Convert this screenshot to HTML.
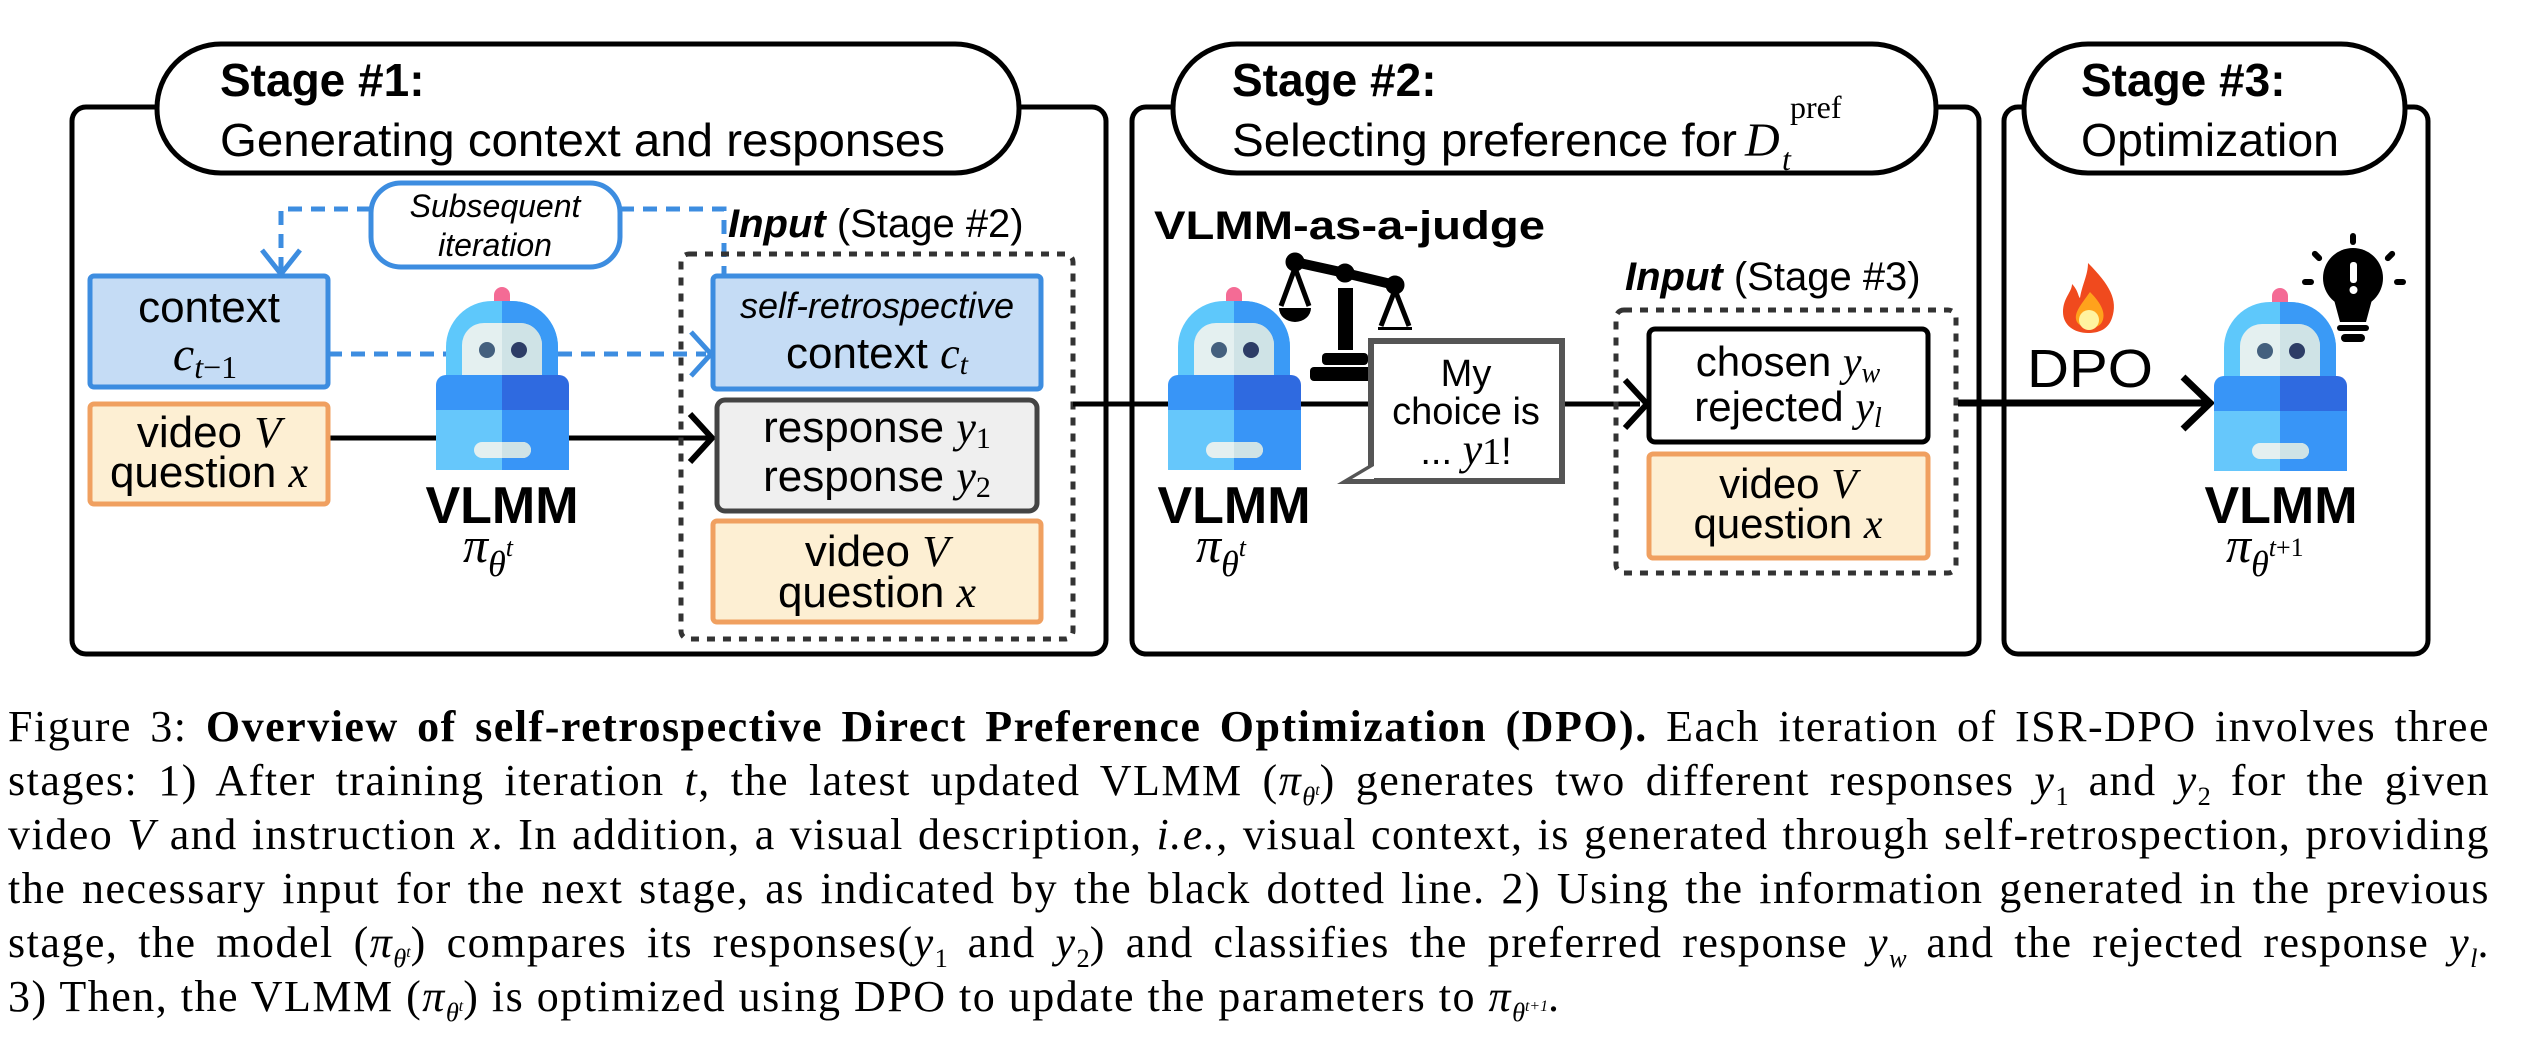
<!DOCTYPE html>
<html><head><meta charset="utf-8"><style>
html,body{margin:0;padding:0;background:#fff;}
body{width:2524px;height:1042px;position:relative;overflow:hidden;}
svg{position:absolute;left:0;top:0;}
.cap{position:absolute;left:8px;width:2482px;font-family:"Liberation Serif",serif;font-size:44px;letter-spacing:1.5px;line-height:54px;color:#000;}
.cap div{text-align:justify;text-align-last:justify;white-space:nowrap;height:54px;}
.cap div.last{text-align-last:left;}
.m{font-style:italic;}
sub,sup{font-size:0.6em;line-height:0;letter-spacing:0;}
</style></head><body>
<svg width="2524" height="660" viewBox="0 0 2524 660" xmlns="http://www.w3.org/2000/svg">
<defs>
<g id="robot">
  <rect x="58" y="0" width="16" height="30" rx="8" fill="#f46b95"/>
  <path d="M10 88 V60 a46 46 0 0 1 46 -46 h20 a46 46 0 0 1 46 46 V88 Z" fill="#5ec8fb"/>
  <path d="M66 14 h10 a46 46 0 0 1 46 46 V88 H66 Z" fill="#3a9af6"/>
  <path d="M26 88 V58 a22 22 0 0 1 22 -22 h36 a22 22 0 0 1 22 22 V88 Z" fill="#e4f0f0"/>
  <path d="M66 36 h18 a22 22 0 0 1 22 22 V88 H66 Z" fill="#cfe3e6"/>
  <circle cx="51" cy="63" r="8" fill="#44607e"/>
  <circle cx="83" cy="63" r="8" fill="#2d3d66"/>
  <path d="M0 98 a10 10 0 0 1 10 -10 h56 V123 H0 Z" fill="#3895f7"/>
  <path d="M66 88 h57 a10 10 0 0 1 10 10 V123 H66 Z" fill="#2f6ae0"/>
  <rect x="0" y="123" width="66" height="60" fill="#66c7fb"/>
  <rect x="66" y="123" width="67" height="60" fill="#3895f7"/>
  <rect x="38" y="155" width="57" height="16" rx="8" fill="#e4f0f0"/>
  <path d="M87 155 a8 8 0 0 1 0 16 h-21 v-16 Z" fill="#cfe3e6"/>
</g>
</defs>
<g fill="none" stroke="#000" stroke-width="5">
  <rect x="72" y="107" width="1034" height="547" rx="14"/>
  <rect x="1132" y="107" width="847" height="547" rx="14"/>
  <rect x="2004" y="107" width="424" height="547" rx="14"/>
</g>
<g fill="#fff" stroke="#000" stroke-width="5">
  <rect x="157" y="44" width="862" height="129" rx="64"/>
  <rect x="1173" y="44" width="763" height="129" rx="64"/>
  <rect x="2024" y="44" width="381" height="129" rx="64"/>
</g>
<g font-family="Liberation Sans, sans-serif" font-size="46">
  <text x="220" y="96" font-weight="bold">Stage #1:</text>
  <text x="220" y="156" textLength="725" lengthAdjust="spacingAndGlyphs">Generating context and responses</text>
  <text x="1232" y="96" font-weight="bold">Stage #2:</text>
  <text x="1232" y="156" textLength="505" lengthAdjust="spacingAndGlyphs">Selecting preference for</text>
  <text x="2081" y="96" font-weight="bold">Stage #3:</text>
  <text x="2081" y="156" textLength="258" lengthAdjust="spacingAndGlyphs">Optimization</text>
</g>
<g font-family="Liberation Serif, serif">
  <text x="1745" y="156" font-size="48" font-style="italic">D</text>
  <text x="1790" y="118" font-size="32">pref</text>
  <text x="1782" y="170" font-size="32" font-style="italic">t</text>
</g>

<!-- Stage 1 -->
<g fill="none" stroke="#3d8de0" stroke-width="5" stroke-dasharray="14 9">
  <path d="M371 209 H281 V272"/>
  <path d="M620 209 H724 V274"/>
  <path d="M328 354 H706"/>
</g>
<path d="M262 250 L281 274 L300 250" fill="none" stroke="#3d8de0" stroke-width="5"/>
<path d="M691 332 L711 354 L691 376" fill="none" stroke="#3d8de0" stroke-width="5"/>
<rect x="371" y="183" width="249" height="84" rx="30" fill="#fff" stroke="#3d8de0" stroke-width="5"/>
<g font-family="Liberation Sans, sans-serif" font-size="32" font-style="italic" text-anchor="middle">
  <text x="495" y="217">Subsequent</text>
  <text x="495" y="256">iteration</text>
</g>
<path d="M328 438 H710" stroke="#000" stroke-width="5"/>
<path d="M690 414 L712 438 L690 462" fill="none" stroke="#000" stroke-width="6"/>
<rect x="681" y="254" width="392" height="385" rx="8" fill="none" stroke="#333" stroke-width="5" stroke-dasharray="8 8"/>
<rect x="90" y="276" width="238" height="111" rx="4" fill="#c5dcf5" stroke="#3d8de0" stroke-width="5"/>
<rect x="90" y="404" width="238" height="100" rx="4" fill="#fdefd3" stroke="#f0a060" stroke-width="5"/>
<rect x="713" y="276" width="328" height="113" rx="4" fill="#c5dcf5" stroke="#3d8de0" stroke-width="5"/>
<rect x="717" y="400" width="320" height="111" rx="8" fill="#efefef" stroke="#444" stroke-width="5"/>
<rect x="713" y="521" width="328" height="101" rx="4" fill="#fdefd3" stroke="#f0a060" stroke-width="5"/>
<use href="#robot" x="436" y="287"/>
<g font-family="Liberation Sans, sans-serif" font-size="44" text-anchor="middle">
  <text x="209" y="322">context</text>
  <text x="209" y="447">video <tspan font-family="Liberation Serif, serif" font-style="italic">V</tspan></text>
  <text x="209" y="487">question <tspan font-family="Liberation Serif, serif" font-style="italic">x</tspan></text>
  <text x="877" y="318" font-size="36" font-style="italic">self-retrospective</text>
  <text x="877" y="368">context <tspan font-family="Liberation Serif, serif" font-style="italic">c</tspan><tspan font-family="Liberation Serif, serif" font-style="italic" font-size="30" dy="6">t</tspan></text>
  <text x="877" y="442">response <tspan font-family="Liberation Serif, serif" font-style="italic">y</tspan><tspan font-family="Liberation Serif, serif" font-size="30" dy="6">1</tspan></text>
  <text x="877" y="491">response <tspan font-family="Liberation Serif, serif" font-style="italic">y</tspan><tspan font-family="Liberation Serif, serif" font-size="30" dy="6">2</tspan></text>
  <text x="877" y="566">video <tspan font-family="Liberation Serif, serif" font-style="italic">V</tspan></text>
  <text x="877" y="607">question <tspan font-family="Liberation Serif, serif" font-style="italic">x</tspan></text>
</g>
<text x="205" y="370" font-family="Liberation Serif, serif" font-size="48" font-style="italic" text-anchor="middle">c<tspan font-size="32" dy="8">t</tspan><tspan font-size="32" font-style="normal">−1</tspan></text>
<text x="728" y="237" font-family="Liberation Sans, sans-serif" font-size="40"><tspan font-weight="bold" font-style="italic">Input</tspan> (Stage #2)</text>

<!-- Stage 2 -->
<path d="M1073 404 H1640" stroke="#000" stroke-width="5"/>
<path d="M1625 380 L1647 404 L1625 428" fill="none" stroke="#000" stroke-width="6"/>
<text x="1154" y="239" font-family="Liberation Sans, sans-serif" font-size="40" font-weight="bold" textLength="391" lengthAdjust="spacingAndGlyphs">VLMM-as-a-judge</text>
<g fill="#000" stroke="#000">
  <path d="M1295 262 L1345 273 L1395 285" stroke-width="10" fill="none"/>
  <circle cx="1295" cy="262" r="9"/><circle cx="1345" cy="273" r="9"/><circle cx="1395" cy="285" r="9"/>
  <rect x="1338" y="288" width="15" height="62" stroke="none"/>
  <path d="M1295 268 L1281 306 M1295 268 L1309 306 M1395 290 L1381 326 M1395 290 L1409 326" stroke-width="5" fill="none"/>
  <path d="M1279 308 h32 a16 14 0 0 1 -32 0 Z" stroke="none"/>
  <path d="M1378 327 h34 v3 h-34 Z" stroke="none"/>
  <rect x="1322" y="353" width="46" height="12" rx="4" stroke="none"/>
  <rect x="1310" y="367" width="70" height="14" rx="4" stroke="none"/>
</g>
<use href="#robot" x="1168" y="287"/>
<path d="M1374 462 L1337 484 L1374 484 Z" fill="#555"/>
<rect x="1371" y="341" width="191" height="140" fill="#fff" stroke="#555" stroke-width="6"/>
<path d="M1374 466 L1352 479 L1374 479 Z" fill="#fff"/>
<g font-family="Liberation Sans, sans-serif" font-size="38" text-anchor="middle">
  <text x="1466" y="386">My</text>
  <text x="1466" y="424">choice is</text>
  <text x="1466" y="464">... <tspan font-family="Liberation Serif, serif" font-style="italic" font-size="44">y</tspan><tspan font-family="Liberation Serif, serif" font-size="38">1</tspan>!</text>
</g>
<rect x="1616" y="310" width="340" height="263" rx="8" fill="none" stroke="#333" stroke-width="5" stroke-dasharray="8 8"/>
<text x="1625" y="290" font-family="Liberation Sans, sans-serif" font-size="40"><tspan font-weight="bold" font-style="italic">Input</tspan> (Stage #3)</text>
<rect x="1649" y="329" width="279" height="113" rx="6" fill="#fff" stroke="#000" stroke-width="5"/>
<rect x="1649" y="454" width="279" height="104" rx="4" fill="#fdefd3" stroke="#f0a060" stroke-width="5"/>
<g font-family="Liberation Sans, sans-serif" font-size="42" text-anchor="middle">
  <text x="1788" y="376">chosen <tspan font-family="Liberation Serif, serif" font-style="italic">y</tspan><tspan font-family="Liberation Serif, serif" font-style="italic" font-size="28" dy="6">w</tspan></text>
  <text x="1788" y="421">rejected <tspan font-family="Liberation Serif, serif" font-style="italic">y</tspan><tspan font-family="Liberation Serif, serif" font-style="italic" font-size="28" dy="6">l</tspan></text>
  <text x="1788" y="498">video <tspan font-family="Liberation Serif, serif" font-style="italic">V</tspan></text>
  <text x="1788" y="538">question <tspan font-family="Liberation Serif, serif" font-style="italic">x</tspan></text>
</g>

<!-- Stage 3 -->
<path d="M1958 403 H2208" stroke="#000" stroke-width="7"/>
<path d="M2183 377 L2210 403 L2183 429" fill="none" stroke="#000" stroke-width="7"/>
<text x="2027" y="387" font-family="Liberation Sans, sans-serif" font-size="54" textLength="126" lengthAdjust="spacingAndGlyphs">DPO</text>
<g>
  <path d="M2088 263 C2110 285 2118 300 2112 318 C2108 330 2098 333 2088 333 C2074 333 2063 325 2063 312 C2063 298 2072 292 2072 284 C2078 290 2078 296 2080 298 C2082 285 2088 275 2088 263 Z" fill="#f04a1e"/>
  <path d="M2090 292 C2102 304 2106 314 2102 322 C2098 330 2082 330 2077 322 C2073 314 2080 306 2090 292 Z" fill="#ffa21c"/>
  <ellipse cx="2089" cy="320" rx="10" ry="10" fill="#fff3a0"/>
</g>
<use href="#robot" x="2214" y="288"/>
<g fill="#000">
  <circle cx="2353" cy="278" r="30"/>
  <path d="M2333 296 L2340 322 H2366 L2373 296 Z"/>
  <rect x="2337" y="325" width="32" height="6" rx="3"/>
  <rect x="2341" y="334" width="24" height="8" rx="4"/>
  <rect x="2350" y="262" width="7" height="21" rx="3" fill="#fff"/>
  <circle cx="2353.5" cy="290" r="4" fill="#fff"/>
  <rect x="2350" y="233" width="6" height="12" rx="3"/>
  <rect x="2302" y="279" width="12" height="6" rx="3"/>
  <rect x="2394" y="279" width="12" height="6" rx="3"/>
  <rect x="2314" y="250" width="6" height="12" rx="3" transform="rotate(-45 2317 256)"/>
  <rect x="2387" y="250" width="6" height="12" rx="3" transform="rotate(45 2390 256)"/>
</g>

<!-- VLMM labels -->
<g font-family="Liberation Sans, sans-serif" font-size="52" font-weight="bold" text-anchor="middle">
  <text x="502" y="523">VLMM</text>
  <text x="1234" y="523">VLMM</text>
  <text x="2281" y="523">VLMM</text>
</g>
<g font-family="Liberation Serif, serif" font-style="italic" font-size="50">
  <text x="463" y="562">π<tspan font-size="36" dy="14">θ</tspan><tspan font-size="26" dy="-20">t</tspan></text>
  <text x="1196" y="562">π<tspan font-size="36" dy="14">θ</tspan><tspan font-size="26" dy="-20">t</tspan></text>
  <text x="2226" y="562">π<tspan font-size="36" dy="14">θ</tspan><tspan font-size="26" dy="-20">t</tspan><tspan font-size="26" font-style="normal">+1</tspan></text>
</g>
</svg>
<div class="cap" style="top:700px;">
<div>Figure 3: <b>Overview of self-retrospective Direct Preference Optimization (DPO).</b> Each iteration of ISR-DPO involves three</div>
<div>stages: 1) After training iteration <span class="m">t</span>, the latest updated VLMM (<span class="m">π<sub>θ<sup>t</sup></sub></span>) generates two different responses <span class="m">y</span><sub>1</sub> and <span class="m">y</span><sub>2</sub> for the given</div>
<div>video <span class="m">V</span> and instruction <span class="m">x</span>. In addition, a visual description, <i>i.e.</i>, visual context, is generated through self-retrospection, providing</div>
<div>the necessary input for the next stage, as indicated by the black dotted line. 2) Using the information generated in the previous</div>
<div>stage, the model (<span class="m">π<sub>θ<sup>t</sup></sub></span>) compares its responses(<span class="m">y</span><sub>1</sub> and <span class="m">y</span><sub>2</sub>) and classifies the preferred response <span class="m">y<sub>w</sub></span> and the rejected response <span class="m">y<sub>l</sub></span>.</div>
<div class="last">3) Then, the VLMM (<span class="m">π<sub>θ<sup>t</sup></sub></span>) is optimized using DPO to update the parameters to <span class="m">π<sub>θ<sup>t+1</sup></sub></span>.</div>
</div>
</body></html>
